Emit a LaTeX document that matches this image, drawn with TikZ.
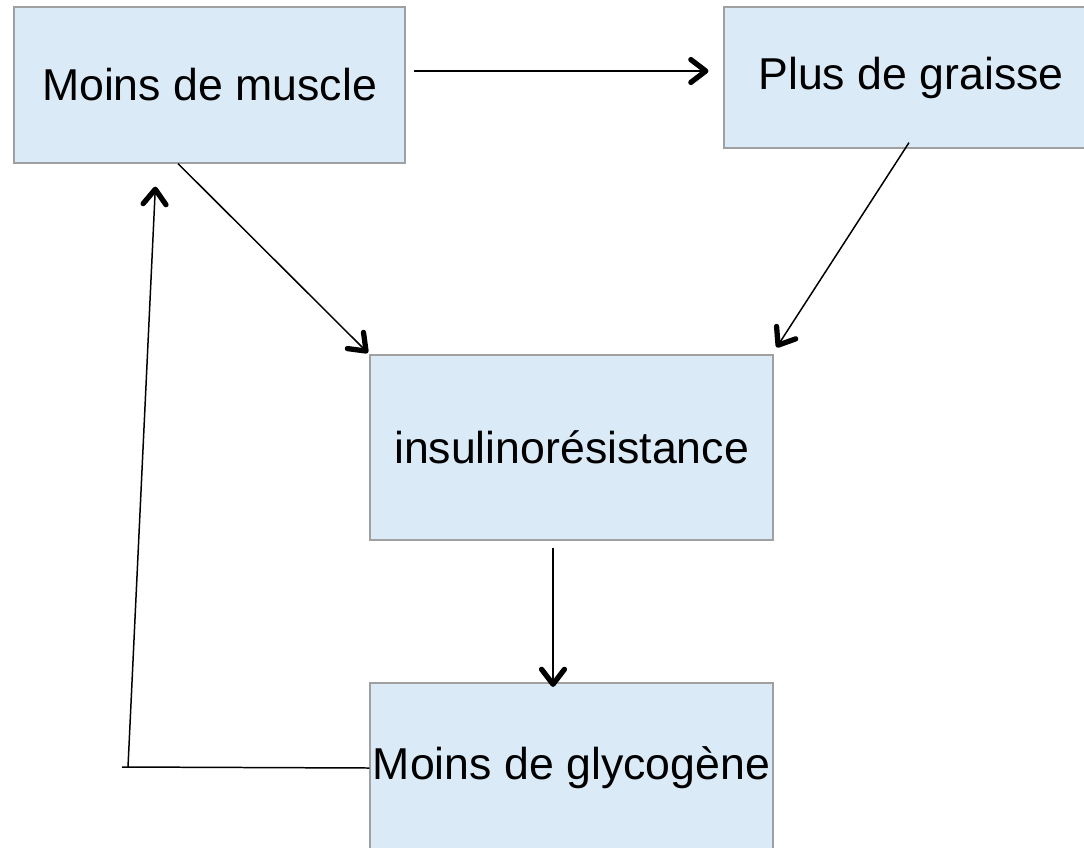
\documentclass[tikz,border=0pt]{standalone}
\usepackage{fontspec}
\setmainfont{Liberation Sans}
\usepackage{xcolor}
\usepackage{tikz}
\usetikzlibrary{arrows.meta,positioning}

\definecolor{boxfill}{RGB}{218,234,246}
\definecolor{boxline}{RGB}{160,160,160}

% thick open chevron tip
\pgfdeclarearrow{
  name = Chevron,
  setup code = {
    \pgfarrowssettipend{1.5pt}
    \pgfarrowssetlineend{-1pt}
    \pgfarrowssetbackend{-10pt}
    \pgfarrowshullpoint{1.5pt}{0pt}
    \pgfarrowshullpoint{-10pt}{8pt}
    \pgfarrowshullpoint{-10pt}{-8pt}
  },
  drawing code = {
    \pgfsetlinewidth{3pt}
    \pgfsetdash{}{+0pt}
    \pgfsetroundcap
    \pgfsetroundjoin
    \pgfpathmoveto{\pgfqpoint{-8.5pt}{6.5pt}}
    \pgfpathlineto{\pgfqpoint{0pt}{0pt}}
    \pgfpathlineto{\pgfqpoint{-8.5pt}{-6.5pt}}
    \pgfusepathqstroke
  }
}

\begin{document}
\begin{tikzpicture}[
  stage/.style={rectangle, draw=boxline, line width=0.7pt, fill=boxfill, inner sep=0pt, font=\fontsize{25.4}{30}\selectfont},
  link/.style={black, line width=0.85pt},
  arrowed/.style={link, -{Chevron}}
]
  \useasboundingbox (0,0) rectangle (21.68,-16.94);

  % boxes
  \node[stage, minimum width=7.82cm, minimum height=3.12cm] (muscle) at (4.19,-1.70) {Moins de muscle};
  \node[stage, minimum width=7.48cm, minimum height=2.82cm] (graisse) at (18.22,-1.55) {Plus de graisse};
  \node[stage, minimum width=8.06cm, minimum height=3.70cm] (insulin) at (11.43,-8.95) {insulinorésistance};
  \node[stage, minimum width=8.06cm, minimum height=3.40cm] (glyco) at (11.43,-15.36) {Moins de glycogène};

  % loop end points
  \coordinate (corner) at (2.44,-15.34);
  \coordinate (foot) at (2.56,-15.34);

  % arrows
  \draw[arrowed] ([shift={(0.16,0.28)}]muscle.east) -- ([shift={(-0.30,0.13)}]graisse.west);
  \draw[arrowed] ([shift={(-0.63,0)}]muscle.south) -- ([shift={(-0.03,0.03)}]insulin.north west);
  \draw[arrowed] ([shift={(-0.04,0.12)}]graisse.south) -- ([shift={(0.06,0.14)}]insulin.north east);
  \draw[arrowed] ([shift={(-0.37,-0.14)}]insulin.south) -- ([shift={(-0.37,-0.09)}]glyco.north);

  % feedback
  \draw[link] (glyco.west) -- (corner);
  \draw[arrowed] (foot) -- ([shift={(2.84,-0.46)}]muscle.south west);
\end{tikzpicture}
\end{document}
